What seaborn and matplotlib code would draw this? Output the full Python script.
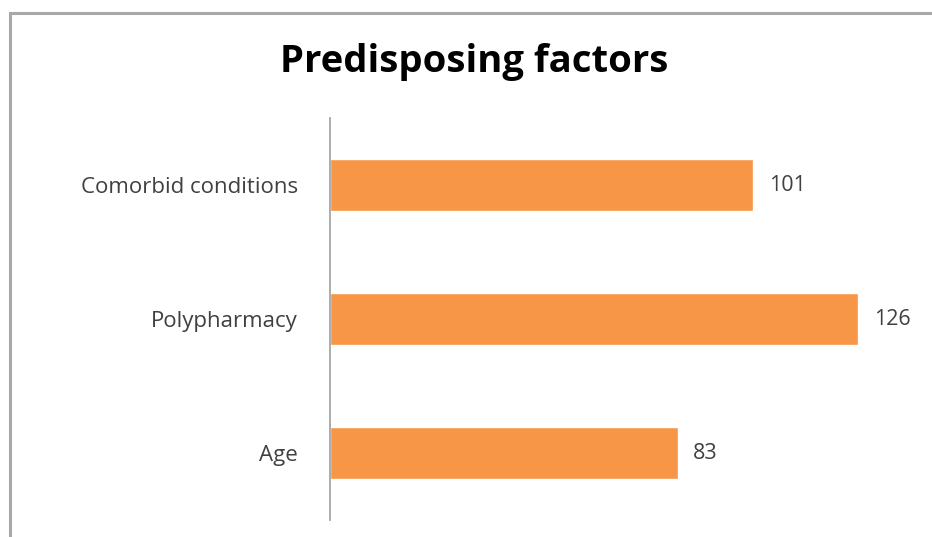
import matplotlib
matplotlib.use("Agg")
import matplotlib.pyplot as plt
import seaborn as sns
import pandas as pd
from matplotlib.patches import Rectangle

# Data
factors = ["Comorbid conditions", "Polypharmacy", "Age"]
counts = [101, 126, 83]

BAR_COLOR = "#F79646"
TEXT_COLOR = "#404040"

sns.set_theme(style="white")
plt.rcParams['font.family'] = ['Open Sans', 'DejaVu Sans']

df = pd.DataFrame({"factor": factors, "count": counts})

fig = plt.figure(figsize=(9.32, 5.37), dpi=100)
ax = fig.add_axes([330 / 932, 17 / 537, 587 / 932, 402 / 537])

sns.barplot(data=df, x="count", y="factor", order=factors, color=BAR_COLOR,
            width=0.39, saturation=1, ax=ax)

ax.set_xlim(0, 140)
ax.set_ylim(2.5, -0.5)
ax.set_xlabel("")
ax.set_ylabel("")
ax.set_xticks([])
ax.tick_params(axis="y", length=0, pad=23, labelsize=16, labelcolor=TEXT_COLOR)

for side in ["top", "right", "bottom"]:
    ax.spines[side].set_visible(False)
ax.spines["left"].set_color("#a6a6a6")
ax.spines["left"].set_linewidth(1.3)

# value labels
for i, v in enumerate(counts):
    ax.annotate(str(v), xy=(v, i), xytext=(11, 0), textcoords="offset points",
                va="center", ha="left", fontsize=15.5, color=TEXT_COLOR)

fig.text(474 / 932, 1 - 62 / 537, "Predisposing factors", ha="center", va="center",
         fontsize=27.5, fontweight="bold", color="#000000")

# chart frame, cut off at the right and bottom like the original
fig.patches.append(Rectangle((10 / 932, -0.05), 1.1, 1 - 13 / 537 + 0.05,
                             transform=fig.transFigure, fill=False,
                             edgecolor="#a8a8a8", linewidth=2.2))

fig.savefig("out.png", dpi=100)
